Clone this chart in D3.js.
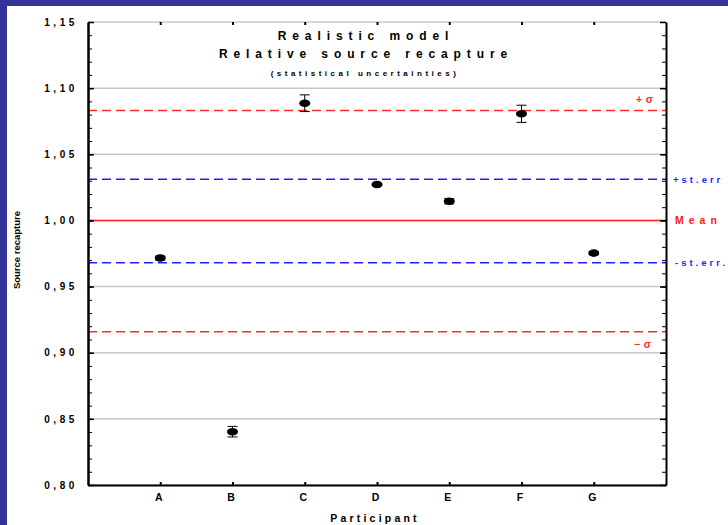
<!DOCTYPE html>
<html>
<head>
<meta charset="utf-8">
<script src="https://cdn.jsdelivr.net/npm/d3@7"></script>
<style>
  html, body { margin: 0; padding: 0; background: #333399; }
  svg { display: block; }
  text { font-family: "Liberation Sans", Arial, sans-serif; font-weight: bold; }
</style>
</head>
<body>
<svg id="chart" width="728" height="525"></svg>
<script>
// Relative source recapture per participant (statistical uncertainties)
const participants = ["A", "B", "C", "D", "E", "F", "G"];
const recapture    = [0.9716, 0.8403, 1.0886, 1.0272, 1.0145, 1.0806, 0.9753];
const uncertainty  = [0.0015, 0.0040, 0.0063, 0.0008, 0.0020, 0.0065, 0.0012];

// Reference levels: mean, ± standard error, ± sigma
const refValues = [1.0831, 1.0312, 1.0000, 0.9681, 0.9159];
const refLabels = ["+σ", "+st.err", "Mean", "-st.err.", "−σ"];
const refKinds  = ["sigma", "sterr", "mean", "sterr", "sigma"];

// Axis ticks
const yMajor = [0.80, 0.85, 0.90, 0.95, 1.00, 1.05, 1.10, 1.15];
const yMinor = d3.range(80, 116).map(v => v / 100);

const titleLines = ["Realistic model", "Relative source recapture"];
const subtitle = "(statistical uncertainties)";
const xTitle = "Participant";
const yTitle = "Source recapture";

const svg = d3.select("#chart");
const W = 728, H = 525;
const plot = { left: 88, right: 666, top: 22, bottom: 485 };

// Frame: dark blue border on the left and top, white page
svg.append("rect").attr("width", W).attr("height", H).attr("fill", "#333399");
svg.append("rect").attr("x", 7).attr("y", 6).attr("width", W - 7).attr("height", H - 6).attr("fill", "#ffffff");

const x = d3.scalePoint().domain(participants).range([plot.left, plot.right]).padding(1);
const y = d3.scaleLinear().domain([0.80, 1.15]).range([plot.bottom, plot.top]);

// Horizontal grid at major ticks
svg.append("g").selectAll("line").data(yMajor).join("line")
  .attr("x1", plot.left).attr("x2", plot.right)
  .attr("y1", d => y(d)).attr("y2", d => y(d))
  .attr("stroke", "#c8c8c8").attr("stroke-width", 1.5);

// Reference lines
const refStyle = {
  sigma: { color: "#ff2a2a", dash: "9,5" },
  sterr: { color: "#1f1fff", dash: "9,5" },
  mean:  { color: "#ff2020", dash: null }
};
svg.append("g").selectAll("line").data(refValues).join("line")
  .attr("x1", plot.left).attr("x2", plot.right)
  .attr("y1", d => y(d)).attr("y2", d => y(d))
  .attr("stroke", (d, i) => refStyle[refKinds[i]].color)
  .attr("stroke-width", 1.5)
  .attr("stroke-dasharray", (d, i) => refStyle[refKinds[i]].dash);

// Reference labels
const refLabelPos = [
  { x: 636, dy: -7, size: 10.5, ls: 3.5 },
  { x: 673, dy: 3.5, size: 9.5, ls: 3 },
  { x: 675, dy: 3.5, size: 10.5, ls: 5 },
  { x: 675, dy: 3.5, size: 9.5, ls: 3 },
  { x: 634, dy: 16, size: 10.5, ls: 3.5 }
];
svg.append("g").selectAll("text").data(refValues).join("text")
  .attr("x", (d, i) => refLabelPos[i].x)
  .attr("y", (d, i) => y(d) + refLabelPos[i].dy)
  .attr("font-size", (d, i) => refLabelPos[i].size)
  .attr("letter-spacing", (d, i) => refLabelPos[i].ls)
  .attr("fill", (d, i) => refStyle[refKinds[i]].color)
  .text((d, i) => refLabels[i]);

// Error bars
const eb = svg.append("g").attr("stroke", "#000").attr("stroke-width", 1);
participants.forEach((p, i) => {
  const cx = x(p), lo = y(recapture[i] - uncertainty[i]), hi = y(recapture[i] + uncertainty[i]);
  eb.append("line").attr("x1", cx).attr("x2", cx).attr("y1", lo).attr("y2", hi);
  eb.append("line").attr("x1", cx - 5).attr("x2", cx + 5).attr("y1", lo).attr("y2", lo);
  eb.append("line").attr("x1", cx - 5).attr("x2", cx + 5).attr("y1", hi).attr("y2", hi);
});

// Points
svg.append("g").selectAll("ellipse").data(participants).join("ellipse")
  .attr("cx", d => x(d))
  .attr("cy", (d, i) => y(recapture[i]))
  .attr("rx", 5.5).attr("ry", 3.8)
  .attr("fill", "#000");

// Axes
const fmt = d => d3.format(".2f")(d).replace(".", ",");

const axisL = svg.append("g").attr("transform", `translate(${plot.left},0)`)
  .call(d3.axisLeft(y).tickValues(yMajor).tickFormat(fmt).tickSizeInner(-6).tickSizeOuter(0).tickPadding(10));
axisL.select(".domain").attr("stroke-width", 2.5);
axisL.selectAll(".tick line").attr("stroke-width", 1.5);
axisL.selectAll("text").attr("font-size", 10).attr("letter-spacing", 3.6).attr("fill", "#000");

svg.append("g").attr("transform", `translate(${plot.left},0)`)
  .call(d3.axisLeft(y).tickValues(yMinor).tickFormat("").tickSizeInner(-4).tickSizeOuter(0))
  .call(g => g.select(".domain").remove());

const axisR = svg.append("g").attr("transform", `translate(${plot.right},0)`)
  .call(d3.axisRight(y).tickValues(yMajor).tickFormat("").tickSizeInner(-6).tickSizeOuter(0));
axisR.select(".domain").attr("stroke-width", 2);
axisR.selectAll(".tick line").attr("stroke-width", 1.5);
svg.append("g").attr("transform", `translate(${plot.right},0)`)
  .call(d3.axisRight(y).tickValues(yMinor).tickFormat("").tickSizeInner(-4).tickSizeOuter(0))
  .call(g => g.select(".domain").remove());

const axisB = svg.append("g").attr("transform", `translate(0,${plot.bottom})`)
  .call(d3.axisBottom(x).tickSizeInner(-3).tickSizeOuter(0).tickPadding(9));
axisB.select(".domain").attr("stroke-width", 2);
axisB.selectAll(".tick line").attr("stroke-width", 2);
axisB.selectAll("text").attr("font-size", 10.5).attr("fill", "#000").attr("dx", -2);

const axisT = svg.append("g").attr("transform", `translate(0,${plot.top})`)
  .call(d3.axisTop(x).tickFormat("").tickSizeInner(-3).tickSizeOuter(0));
axisT.select(".domain").remove();
axisT.selectAll(".tick line").attr("stroke-width", 2);

// Titles
const cxTitle = 363;
svg.append("text").attr("x", cxTitle + 3).attr("y", 40).attr("text-anchor", "middle")
  .attr("font-size", 12).attr("letter-spacing", 5.9).text(titleLines[0]);
svg.append("text").attr("x", cxTitle + 3).attr("y", 58).attr("text-anchor", "middle")
  .attr("font-size", 12).attr("letter-spacing", 5.9).text(titleLines[1]);
svg.append("text").attr("x", cxTitle + 2).attr("y", 76).attr("text-anchor", "middle")
  .attr("font-size", 8).attr("letter-spacing", 3.5).text(subtitle);

svg.append("text").attr("x", 375).attr("y", 522).attr("text-anchor", "middle")
  .attr("font-size", 10.5).attr("letter-spacing", 3.2).text(xTitle);

svg.append("text").attr("transform", "translate(20,250) rotate(-90)").attr("text-anchor", "middle")
  .attr("font-size", 9.5).text(yTitle);
</script>
</body>
</html>
